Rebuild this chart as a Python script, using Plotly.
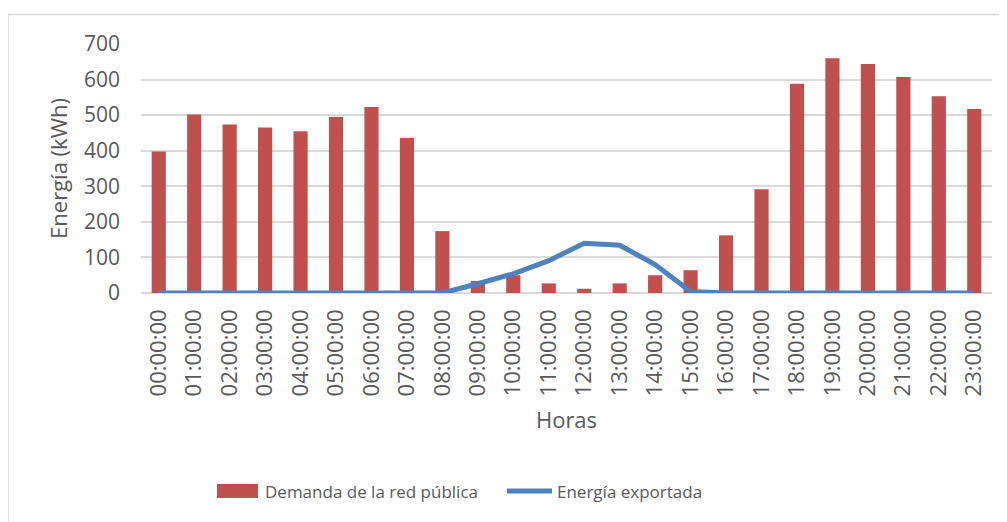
import plotly.graph_objects as go

horas = [f"{h:02d}:00:00" for h in range(24)]
demanda = [398, 502, 474, 465, 455, 495, 523, 436, 174, 34, 50, 27, 12, 27, 50, 64,
           162, 292, 588, 660, 644, 607, 553, 517]
exportada = [0, 0, 0, 0, 0, 0, 0, 0, 0, 26, 54, 91, 140, 134, 80, 4,
             0, 0, 0, 0, 0, 0, 0, 0]
y_ticks = [0, 100, 200, 300, 400, 500, 600, 700]
serie_demanda = "Demanda de la red pública"
serie_export = "Energía exportada"

FONT = "Open Sans"
GRAY = "#595959"
RED = "#C0504D"
BLUE = "#4F81BD"

fig = go.Figure()
fig.add_trace(go.Bar(x=horas, y=demanda, name=serie_demanda,
                     marker=dict(color=RED, line=dict(width=0))))
fig.add_trace(go.Scatter(x=horas, y=exportada, name=serie_export, mode="lines",
                         line=dict(color=BLUE, width=5)))

fig.update_layout(
    width=999, height=514,
    margin=dict(l=133, r=15, t=36, b=229),
    paper_bgcolor="white", plot_bgcolor="white",
    font=dict(family=FONT, color=GRAY, size=20),
    bargap=0.6,
    showlegend=False,
    xaxis=dict(type="category", tickangle=-90, showgrid=False, showline=False,
               ticks="", ticklabelstandoff=11, tickfont=dict(size=22, color=GRAY),
               title=dict(text="Horas", font=dict(size=22, color=GRAY), standoff=17)),
    yaxis=dict(range=[0, 700], tickvals=y_ticks, showgrid=True, gridcolor="#D9D9D9",
               gridwidth=1.5, zeroline=True, zerolinecolor="#D9D9D9", zerolinewidth=1.5,
               showline=False, ticks="", ticklabelstandoff=20,
               tickfont=dict(size=21, color=GRAY),
               title=dict(text="Energía (kWh)", font=dict(size=22, color=GRAY), standoff=10)),
    shapes=[
        dict(type="rect", xref="paper", yref="paper", x0=-0.1563, x1=1.05,
             y0=-1.2, y1=1.1185, line=dict(color="#D9D9D9", width=1.5),
             fillcolor="rgba(0,0,0,0)", layer="below"),
        # legend keys
        dict(type="rect", xref="paper", yref="paper", x0=0.0893, x1=0.1375,
             y0=-0.8233, y1=-0.7671, line=dict(width=0), fillcolor=RED),
        dict(type="line", xref="paper", yref="paper", x0=0.4301, x1=0.4830,
             y0=-0.7952, y1=-0.7952, line=dict(color=BLUE, width=5)),
    ],
    annotations=[
        dict(text=serie_demanda, xref="paper", yref="paper", x=0.1434, y=-0.7952,
             xanchor="left", yanchor="middle", showarrow=False,
             font=dict(size=17, color=GRAY)),
        dict(text=serie_export, xref="paper", yref="paper", x=0.4865, y=-0.7952,
             xanchor="left", yanchor="middle", showarrow=False,
             font=dict(size=17, color=GRAY)),
    ],
)

fig.write_html("out.html")
